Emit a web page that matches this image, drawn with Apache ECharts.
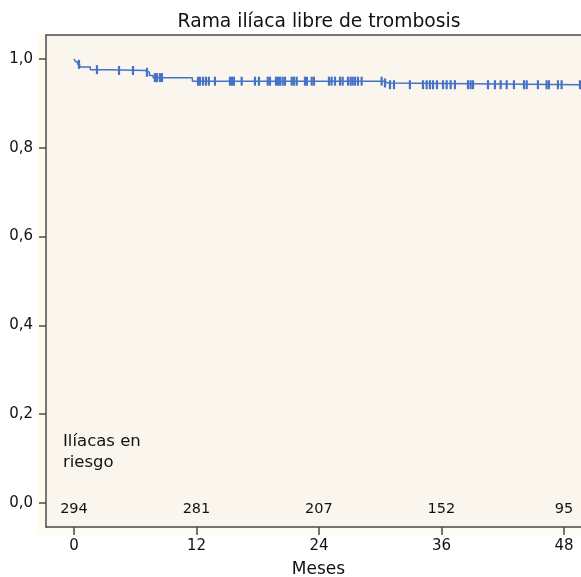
<!DOCTYPE html>
<html>
<head>
<meta charset="utf-8">
<script src="https://cdn.jsdelivr.net/npm/echarts@6/dist/echarts.min.js"></script>
<style>
  html, body { margin: 0; padding: 0; background: #fff; }
  #chart { width: 581px; height: 577px; }
</style>
</head>
<body>
<div id="chart"></div>
<script>
// Kaplan-Meier: momentos de evento (meses) y supervivencia tras cada evento
const eventTimes = [0, 0.15, 0.35, 0.55, 1.6, 3.5, 7.0, 7.4, 7.75, 11.6, 30.3, 30.8];
const survival   = [1.0, 0.994, 0.988, 0.982, 0.976, 0.974, 0.970, 0.963, 0.958, 0.950, 0.946, 0.942];

// casos censurados (meses)
const censorTimes = [
  0.49, 2.25, 4.41, 5.78, 7.15, 7.93, 8.13, 8.42, 8.62,
  12.15, 12.34, 12.64, 12.93, 13.22, 13.81, 15.28, 15.48, 15.67, 16.43,
  17.73, 18.12, 18.98, 19.2, 19.79, 19.98, 20.18, 20.44, 20.67, 21.33,
  21.55, 21.82, 22.63, 22.82, 23.29, 23.51, 24.98, 25.24, 25.57, 26.06,
  26.32, 26.84, 27.1, 27.3, 27.53, 27.82, 28.18, 30.14, 30.47, 30.96,
  31.35, 32.91, 34.19, 34.55, 34.87, 35.17, 35.56, 36.15, 36.51, 36.9,
  37.32, 38.6, 38.86, 39.09, 40.56, 41.24, 41.8, 42.39, 43.1, 44.08,
  44.35, 45.45, 46.3, 46.53, 47.41, 47.77, 49.57
];

const riskTimes  = [0, 12, 24, 36, 48];
const riskCounts = [294, 281, 207, 152, 95];

const xTicks = [0, 12, 24, 36, 48];
const yTicks = [0, 0.2, 0.4, 0.6, 0.8, 1.0];

const xMin = -2.74, xMax = 49.67;
const yMin = -0.054, yMax = 1.054;

function survAt(t) {
  let s = survival[0];
  for (let i = 0; i < eventTimes.length; i++) {
    if (eventTimes[i] <= t) s = survival[i];
  }
  return s;
}

const curve = eventTimes.map((t, i) => [t, survival[i]]);
curve.push([xMax, survival[survival.length - 1]]);

const censorData = censorTimes.map(t => [t, survAt(t)]);
const riskData = riskTimes.map((t, i) => ({ value: [t, -0.0135], label: { formatter: String(riskCounts[i]) } }));

const font = '"DejaVu Sans", Verdana, sans-serif';
const axisColor = '#4a4a4a';
const blue = '#4672c6';

const chart = echarts.init(document.getElementById('chart'), null, { renderer: 'canvas' });

chart.setOption({
  animation: false,
  backgroundColor: '#ffffff',
  title: {
    text: 'Rama ilíaca libre de trombosis',
    left: 314, top: 8, textAlign: 'center',
    textStyle: { fontFamily: font, fontWeight: 'normal', fontSize: 18.7, color: '#111' }
  },
  graphic: [
    { type: 'rect', z: -10, silent: true, shape: { x: 37, y: 35, width: 544, height: 500 }, style: { fill: '#fefcf1' } },
    { type: 'text', left: 63, top: 431, z: 10,
      style: { text: 'Ilíacas en\nriesgo', font: '16.5px ' + font, fill: '#111', lineHeight: 21 } }
  ],
  grid: {
    left: 46, right: 0, top: 35, bottom: 50,
    outerBoundsMode: 'none', containLabel: false,
    show: true, backgroundColor: '#faf6ee', borderWidth: 0
  },
  xAxis: [{
    type: 'value', min: xMin, max: xMax,
    name: 'Meses', nameLocation: 'middle', nameGap: 34,
    nameTextStyle: { fontFamily: font, fontSize: 17, color: '#111', padding: [0, 0, 0, 10] },
    axisLine: { show: true, onZero: false, lineStyle: { color: axisColor, width: 1.5 } },
    axisTick: { show: true, length: 8, customValues: xTicks, lineStyle: { color: axisColor, width: 1.5 } },
    axisLabel: { customValues: xTicks, margin: 12, fontFamily: font, fontSize: 15, color: '#111' },
    splitLine: { show: false }
  }, {
    type: 'value', position: 'top', min: xMin, max: xMax,
    axisLine: { show: true, onZero: false, lineStyle: { color: axisColor, width: 1.5 } },
    axisTick: { show: false }, axisLabel: { show: false }, splitLine: { show: false }
  }],
  yAxis: {
    type: 'value', min: yMin, max: yMax,
    axisLine: { show: true, onZero: false, lineStyle: { color: axisColor, width: 1.5 } },
    axisTick: { show: true, length: 7, customValues: yTicks, lineStyle: { color: axisColor, width: 1.5 } },
    axisLabel: {
      customValues: yTicks, margin: 13, fontFamily: font, fontSize: 15, color: '#111',
      formatter: v => v.toFixed(1).replace('.', ',')
    },
    splitLine: { show: false }
  },
  series: [{
    type: 'line', step: 'end', data: curve, showSymbol: false, symbol: 'none',
    lineStyle: { color: blue, width: 1.5 }, z: 3
  }, {
    type: 'scatter', data: censorData, symbol: 'rect', symbolSize: [2.2, 9],
    itemStyle: { color: blue, opacity: 1 }, z: 4
  }, {
    type: 'scatter', data: riskData, symbolSize: 0, itemStyle: { opacity: 1 },
    label: { show: true, position: 'inside', fontFamily: font, fontSize: 14.5, color: '#111', opacity: 1 }, z: 5
  }]
});
</script>
</body>
</html>
